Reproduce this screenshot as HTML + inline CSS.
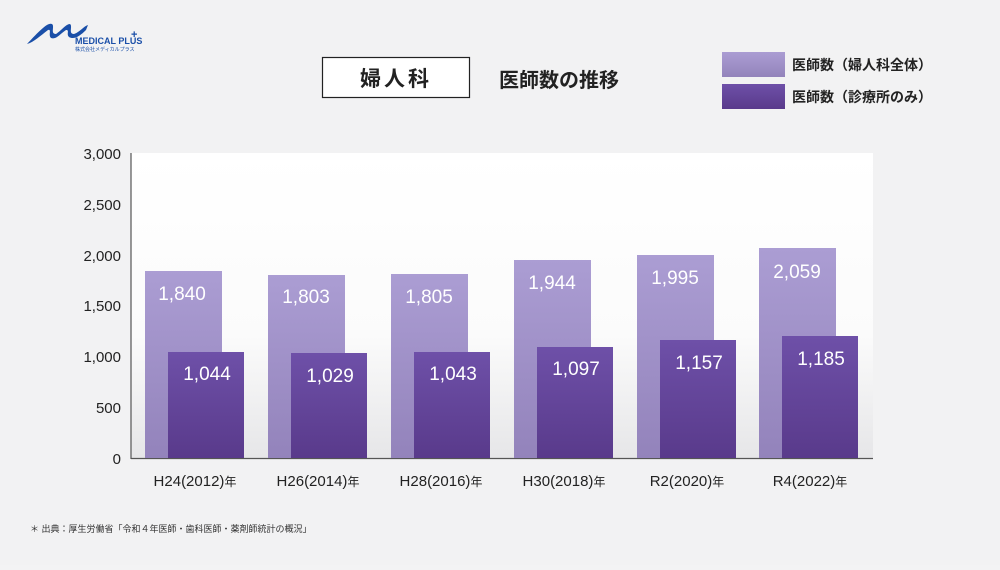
<!DOCTYPE html>
<html><head><meta charset="utf-8"><style>
body{margin:0;width:1000px;height:565px;overflow:hidden;background:#f3f3f4;font-family:"Liberation Sans","Noto Sans CJK JP",sans-serif;}
svg text{font-family:"Liberation Sans","Noto Sans CJK JP",sans-serif;}
</style></head><body>
<svg width="1000" height="565" viewBox="0 0 1000 565" xmlns="http://www.w3.org/2000/svg">
<defs>
<linearGradient id="bg" x1="0" y1="0" x2="0" y2="1"><stop offset="0" stop-color="#ffffff"/><stop offset="0.6" stop-color="#fbfbfb"/><stop offset="1" stop-color="#e6e6e8"/></linearGradient>
<linearGradient id="lt" x1="0" y1="0" x2="0" y2="1"><stop offset="0" stop-color="#ab9dd3"/><stop offset="1" stop-color="#9383bb"/></linearGradient>
<linearGradient id="dk" x1="0" y1="0" x2="0" y2="1"><stop offset="0" stop-color="#6e50a8"/><stop offset="1" stop-color="#593a8b"/></linearGradient>
</defs>
<rect width="1000" height="565" fill="#f2f2f3"/>
<path d="M27 44 C40 30 48 22 52 24 C55 26 50 34 56 34 C62 30 66 24 70 24 C73 26 68 34 74 34 C80 32 84 26 88 25 L86 30 C80 36 74 40 69 37 C66 34 70 30 66 30 C60 34 56 40 51 38 C48 35 52 29 48 30 C40 36 34 42 27 44Z" fill="#1a4fa8"/>
<text x="75" y="44" font-size="9" font-weight="bold" fill="#1a4fa8">MEDICAL PLUS</text>
<text x="131" y="38" font-size="11" font-weight="bold" fill="#1a4fa8">+</text>
<text x="75" y="51" font-size="5" fill="#1a4fa8">株式会社メディカルプラス</text>
<rect x="322.5" y="57.5" width="147" height="40" fill="#fff" stroke="#222" stroke-width="1.2"/>
<text x="396" y="86" font-size="21" font-weight="bold" text-anchor="middle" fill="#222" letter-spacing="3">婦人科</text>
<text x="499" y="87" font-size="20" font-weight="bold" fill="#222">医師数の推移</text>
<rect x="722" y="52" width="63" height="25" fill="url(#lt)"/>
<rect x="722" y="84" width="63" height="25" fill="url(#dk)"/>
<text x="792" y="70" font-size="14" font-weight="bold" fill="#222">医師数（婦人科全体）</text>
<text x="792" y="102" font-size="14" font-weight="bold" fill="#222">医師数（診療所のみ）</text>
<rect x="131" y="153" width="742" height="305" fill="url(#bg)"/>
<line x1="131" y1="153" x2="131" y2="459" stroke="#555" stroke-width="1.2"/>
<line x1="131" y1="458.5" x2="873" y2="458.5" stroke="#555" stroke-width="1.2"/>
<g font-size="15" fill="#222" text-anchor="end">
<text x="121" y="159">3,000</text><text x="121" y="210">2,500</text><text x="121" y="261">2,000</text>
<text x="121" y="311">1,500</text><text x="121" y="362">1,000</text><text x="121" y="413">500</text><text x="121" y="464">0</text>
</g>
<g font-size="19" fill="#fff" text-anchor="middle">
<rect x="145" y="271" width="77" height="187" fill="url(#lt)"/><text x="182" y="300">1,840</text>
<rect x="168" y="352" width="76" height="106" fill="url(#dk)"/><text x="207" y="380">1,044</text>
<rect x="268" y="275" width="77" height="183" fill="url(#lt)"/><text x="306" y="303">1,803</text>
<rect x="291" y="353" width="76" height="105" fill="url(#dk)"/><text x="330" y="382">1,029</text>
<rect x="391" y="274" width="77" height="184" fill="url(#lt)"/><text x="429" y="303">1,805</text>
<rect x="414" y="352" width="76" height="106" fill="url(#dk)"/><text x="453" y="380">1,043</text>
<rect x="514" y="260" width="77" height="198" fill="url(#lt)"/><text x="552" y="289">1,944</text>
<rect x="537" y="347" width="76" height="111" fill="url(#dk)"/><text x="576" y="375">1,097</text>
<rect x="637" y="255" width="77" height="203" fill="url(#lt)"/><text x="675" y="284">1,995</text>
<rect x="660" y="340" width="76" height="118" fill="url(#dk)"/><text x="699" y="369">1,157</text>
<rect x="759" y="248" width="77" height="210" fill="url(#lt)"/><text x="797" y="278">2,059</text>
<rect x="782" y="336" width="76" height="122" fill="url(#dk)"/><text x="821" y="365">1,185</text>
</g>
<g font-size="15" fill="#222" text-anchor="middle">
<text x="195" y="486">H24(2012)<tspan font-size="12">年</tspan></text>
<text x="318" y="486">H26(2014)<tspan font-size="12">年</tspan></text>
<text x="441" y="486">H28(2016)<tspan font-size="12">年</tspan></text>
<text x="564" y="486">H30(2018)<tspan font-size="12">年</tspan></text>
<text x="687" y="486">R2(2020)<tspan font-size="12">年</tspan></text>
<text x="810" y="486">R4(2022)<tspan font-size="12">年</tspan></text>
</g>
<text x="30" y="532" font-size="9" fill="#333">＊ 出典：厚生労働省「令和４年医師・歯科医師・薬剤師統計の概況」</text>
</svg>
</body></html>
